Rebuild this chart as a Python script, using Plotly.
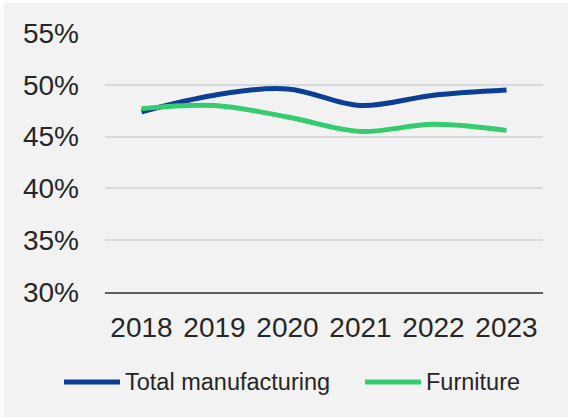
import plotly.graph_objects as go

# Share of value added, by year
years = ["2018", "2019", "2020", "2021", "2022", "2023"]
total_manufacturing = [47.4, 49.0, 49.6, 48.0, 49.0, 49.5]
furniture = [47.7, 48.0, 46.9, 45.5, 46.2, 45.6]

series_names = ["Total manufacturing", "Furniture"]
series_values = [total_manufacturing, furniture]
series_colors = ["#0b3f96", "#34cc6e"]

y_ticks = [30, 35, 40, 45, 50, 55]
y_tick_labels = [f"{v}%" for v in y_ticks]

# Page geometry (pixels)
W, H = 568, 417
M = dict(l=105, r=25, t=33, b=125)
PW = W - M["l"] - M["r"]
PH = H - M["t"] - M["b"]


def paper_x(px):
    return (px - M["l"]) / PW


def paper_y(py):
    return (H - M["b"] - py) / PH


TEXT = "#262626"
FONT = "Liberation Sans, Arial, sans-serif"

fig = go.Figure()
for name, vals, color in zip(series_names, series_values, series_colors):
    fig.add_trace(go.Scatter(
        x=years, y=vals, name=name, mode="lines",
        line=dict(color=color, width=5, shape="spline", smoothing=1),
        showlegend=False, hoverinfo="skip",
    ))

shapes = [
    # chart panel on a white page edge
    dict(type="rect", xref="paper", yref="paper",
         x0=paper_x(4), x1=paper_x(W), y0=paper_y(3), y1=paper_y(H),
         fillcolor="#f2f2f2", line=dict(width=0), layer="below"),
]
annotations = []

# Legend row drawn below the axis
legend_y = 382
legend_items = [(64, 120, 123), (365, 421, 424)]
for (lx0, lx1, tx), name, color in zip(legend_items, series_names, series_colors):
    shapes.append(dict(type="line", xref="paper", yref="paper",
                       x0=paper_x(lx0), x1=paper_x(lx1),
                       y0=paper_y(legend_y), y1=paper_y(legend_y),
                       line=dict(color=color, width=5), layer="above"))
    annotations.append(dict(text=name, xref="paper", yref="paper",
                            x=paper_x(tx), y=paper_y(legend_y),
                            xanchor="left", yanchor="middle", showarrow=False,
                            font=dict(family=FONT, size=23.5, color=TEXT)))

fig.update_layout(
    width=W, height=H,
    margin=M,
    paper_bgcolor="#ffffff",
    plot_bgcolor="rgba(0,0,0,0)",
    font=dict(family=FONT, color=TEXT),
    shapes=shapes,
    annotations=annotations,
    showlegend=False,
    xaxis=dict(
        type="category", range=[-0.5, 5.5],
        showgrid=False, zeroline=False,
        showline=True, linecolor="#5f5f5f", linewidth=1.5,
        ticks="", tickfont=dict(size=28, color=TEXT),
        ticklabelstandoff=10,
    ),
    yaxis=dict(
        range=[30, 55], tickmode="array",
        tickvals=y_ticks, ticktext=y_tick_labels,
        showgrid=True, gridcolor="#d9d9d9", gridwidth=1.5,
        zeroline=False, showline=False, ticks="",
        tickfont=dict(size=28, color=TEXT),
        ticklabelstandoff=25,
    ),
)

fig.write_html("out.html")
